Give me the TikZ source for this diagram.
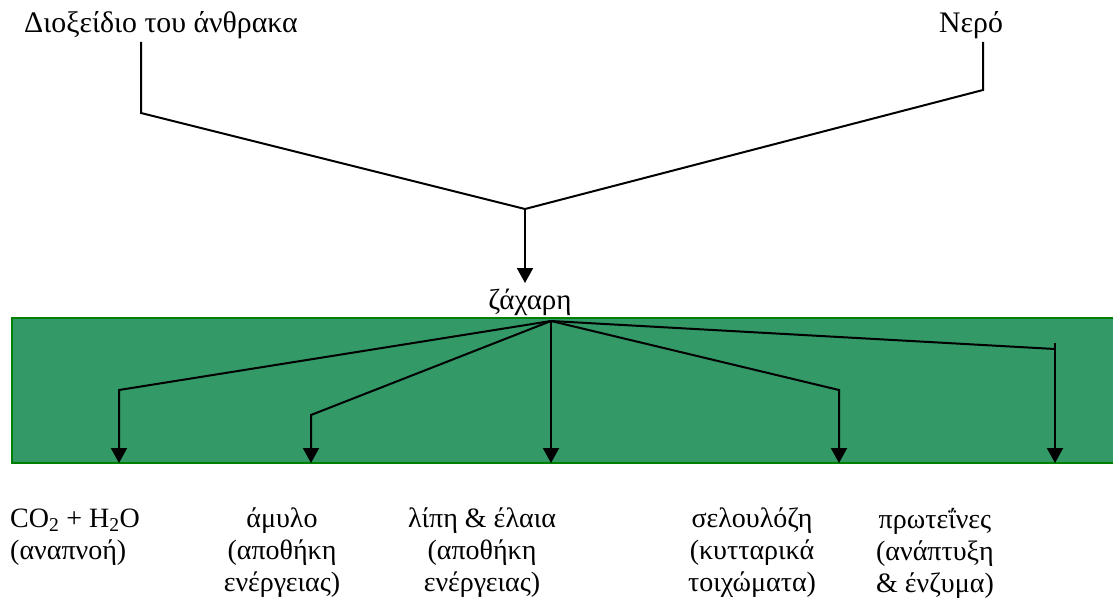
\documentclass[tikz,border=0pt]{standalone}
\usepackage{fontspec}
\setmainfont{Liberation Serif}
\usetikzlibrary{arrows.meta}
\definecolor{boxfill}{RGB}{51,153,102}
\definecolor{boxline}{RGB}{0,128,0}
\begin{document}
\begin{tikzpicture}[x=1pt,y=-1pt,
  lbl/.style={inner sep=0pt,font=\fontsize{28}{32}\selectfont},
  toplbl/.style={inner sep=0pt,font=\fontsize{29.8}{34}\selectfont},
  conn/.style={line width=2pt,black},
  arr/.style={conn,-{Triangle[width=16pt,length=15pt]}}]
\useasboundingbox (0,0) rectangle (1113,602);
% green band
\begin{scope}
\clip (0,0) rectangle (1113,602);
\draw[fill=boxfill,draw=boxline,line width=2pt] (12,318) rectangle (1125,463);
\end{scope}
% top labels
\node[toplbl] (co2) at (161,25) {Διοξείδιο του άνθρακα};
\node[toplbl] (water) at (971,25) {Νερό};
\node[toplbl,font=\fontsize{29}{33}\selectfont] (sugar) at (530,302) {ζάχαρη};
% junction coordinates
\coordinate (c1a) at (141,42);
\coordinate (c1b) at (141,113);
\coordinate (w1a) at (983,42);
\coordinate (w1b) at (983,90);
\coordinate (j) at (525,209);
\coordinate (jend) at (525,283);
\draw[conn] (c1a) -- (c1b) -- (j);
\draw[conn] (w1a) -- (w1b) -- (j);
\draw[arr] (j) -- (jend);
% hub and branches
\coordinate (hub) at (551,321);
\coordinate (k1) at (119,390);
\coordinate (k2) at (311,415);
\coordinate (k4) at (839,390);
\coordinate (k5) at (1055,349);
\coordinate (k5top) at (1055,343);
\coordinate (t1) at (119,463);
\coordinate (t2) at (311,463);
\coordinate (t3) at (551,463);
\coordinate (t4) at (839,463);
\coordinate (t5) at (1055,463);
\draw[arr] (hub) -- (k1) -- (t1);
\draw[arr] (hub) -- (k2) -- (t2);
\draw[arr] (hub) -- (t3);
\draw[arr] (hub) -- (k4) -- (t4);
\draw[conn] (hub) -- (k5);
\draw[arr] (k5top) -- (t5);
% bottom labels
\node[lbl,align=left,anchor=west] (b1) at (10,537) {CO\textsubscript{2} + H\textsubscript{2}O\\(αναπνοή)};
\node[lbl,align=center] (b2) at (282,553) {άμυλο\\(αποθήκη\\ενέργειας)};
\node[lbl,align=center] (b3) at (482,553) {λίπη \& έλαια\\(αποθήκη\\ενέργειας)};
\node[lbl,align=center] (b4) at (752,553) {σελουλόζη\\(κυτταρικά\\τοιχώματα)};
\node[lbl,align=center] (b5) at (935,553) {πρωτεΐνες\\(ανάπτυξη\\\& ένζυμα)};
\end{tikzpicture}
\end{document}
